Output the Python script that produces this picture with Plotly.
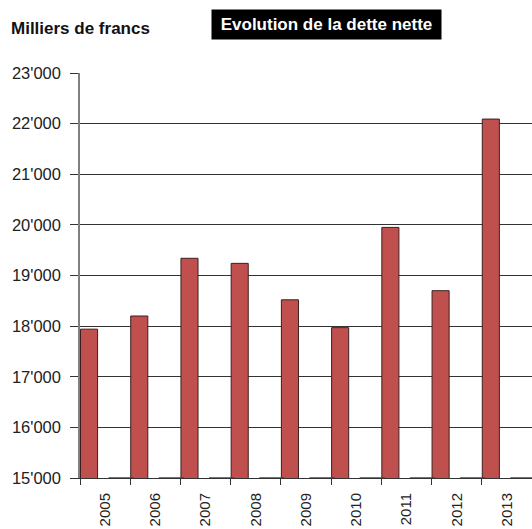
import plotly.graph_objects as go

annees = ["2005", "2006", "2007", "2008", "2009", "2010", "2011", "2012", "2013"]
dette_nette = [17940, 18200, 19340, 19240, 18520, 17970, 19950, 18700, 22090]
autre_serie = [0, 0, 0, 0, 0, 0, 0, 0, 0]
y_ticks = [15000, 16000, 17000, 18000, 19000, 20000, 21000, 22000, 23000]
y_min, y_max = 15000, 23000

idx = list(range(len(annees)))

fig = go.Figure()
fig.add_trace(go.Bar(
    x=idx, y=dette_nette, offset=-0.49, width=0.34,
    marker=dict(color="#C0504D", line=dict(color="#3b1f1f", width=1)),
    hoverinfo="x+y", showlegend=False,
))
# second series: values below the axis minimum, drawn clipped at the baseline
fig.add_trace(go.Scatter(
    x=[i + 0.32 for i in idx], y=[max(v, y_min) for v in autre_serie],
    mode="markers",
    marker=dict(symbol="line-ew", size=18, line=dict(color="#1F4E79", width=1.5)),
    cliponaxis=False, showlegend=False,
))

fig.update_layout(
    width=532, height=529,
    margin=dict(l=80, r=0, t=73, b=51, autoexpand=False),
    paper_bgcolor="white", plot_bgcolor="white",
    separators=".'",
    font=dict(family="Liberation Sans, Arial, sans-serif", color="#222"),
    xaxis=dict(
        range=[-0.5, 8.5], tickmode="array", tickvals=idx, ticktext=annees,
        tickangle=-90, ticks="", showgrid=False, zeroline=False,
        showline=True, linecolor="#333", linewidth=1,
        tickfont=dict(size=15, color="#222"), automargin=False,
        minor=dict(tick0=-0.5, dtick=1, ticks="outside", ticklen=6,
                   tickcolor="#333", tickwidth=1, showgrid=False),
        ticklabelstandoff=8,
    ),
    yaxis=dict(
        range=[y_min, y_max], tickmode="array", tickvals=y_ticks,
        tickformat=",d", ticks="outside", ticklen=8, tickcolor="#333",
        showgrid=True, gridcolor="#333", gridwidth=1, zeroline=False,
        showline=True, linecolor="#808080", linewidth=1.5,
        tickfont=dict(size=16.5, color="#222"), automargin=False,
        ticklabelstandoff=6,
    ),
    annotations=[
        dict(text="<b>Milliers de francs</b>", xref="paper", yref="paper",
             x=(9 - 80) / 452, y=1 + (73 - 29) / 405, xanchor="left", yanchor="middle",
             showarrow=False, font=dict(size=17, color="#111")),
        dict(text="<b>Evolution de la dette nette</b>", xref="paper", yref="paper",
             x=(326.5 - 80) / 452, y=1 + (73 - 24.5) / 405, xanchor="center", yanchor="middle",
             showarrow=False, font=dict(size=17, color="white"),
             bgcolor="black", width=225, height=25, borderpad=2),
    ],
)

fig.write_html(
    "out.html",
    config={"displayModeBar": False},
    post_script="document.body.style.margin='0';document.body.style.overflow='hidden';",
)
